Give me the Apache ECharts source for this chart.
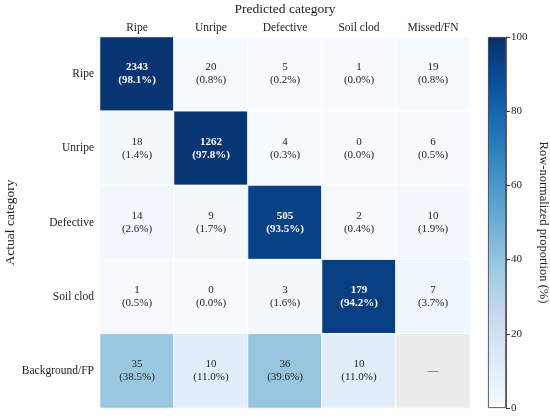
<!DOCTYPE html>
<html><head><meta charset="utf-8">
<script src="https://cdn.jsdelivr.net/npm/echarts@6/dist/echarts.min.js"></script>
<style>html,body{margin:0;padding:0;background:#fff}#c{width:550px;height:417px}</style>
</head><body><div id="c"></div>
<script>
var predicted = ['Ripe','Unripe','Defective','Soil clod','Missed/FN'];
var actual = ['Ripe','Unripe','Defective','Soil clod','Background/FP'];
var counts = [
  [2343, 20, 5, 1, 19],
  [18, 1262, 4, 0, 6],
  [14, 9, 505, 2, 10],
  [1, 0, 3, 179, 7],
  [35, 10, 36, 10, null]
];
var percents = [
  [98.1, 0.8, 0.2, 0.0, 0.8],
  [1.4, 97.8, 0.3, 0.0, 0.5],
  [2.6, 1.7, 93.5, 0.4, 1.9],
  [0.5, 0.0, 1.6, 94.2, 3.7],
  [38.5, 11.0, 39.6, 11.0, null]
];
var colorbarTicks = [0, 20, 40, 60, 80, 100];
var blues = ['#f7fbff','#deebf7','#c6dbef','#9ecae1','#6baed6','#4292c6','#2171b5','#08519c','#08306b'];

var FONT = 'Liberation Serif';
var cells = [], naCells = [];
for (var r = 0; r < actual.length; r++) {
  for (var c = 0; c < predicted.length; c++) {
    if (percents[r][c] === null) {
      naCells.push([c, r, 0]);
    } else {
      var dark = percents[r][c] > 50;
      cells.push({
        value: [c, r, percents[r][c]],
        label: {
          color: dark ? '#ffffff' : '#222222',
          fontWeight: dark ? 'bold' : 'normal'
        }
      });
    }
  }
}

var chart = echarts.init(document.getElementById('c'));
chart.setOption({
  animation: false,
  textStyle: { fontFamily: FONT },
  grid: [
    { left: 100, top: 37, width: 370, height: 371, outerBoundsMode: 'none', containLabel: false },
    { left: 488, top: 37, width: 18, height: 371, outerBoundsMode: 'none', containLabel: false }
  ],
  xAxis: [
    { type: 'category', data: predicted, position: 'top', gridIndex: 0,
      name: 'Predicted category', nameLocation: 'middle', nameGap: 21, nameMoveOverlap: false,
      nameTextStyle: { fontFamily: FONT, fontSize: 13.5, color: '#222' },
      axisLine: { show: false }, axisTick: { show: false }, splitLine: { show: false },
      axisLabel: { fontFamily: FONT, fontSize: 11.5, color: '#222', margin: 3 } },
    { type: 'category', data: ['cb'], gridIndex: 1, show: false }
  ],
  yAxis: [
    { type: 'category', data: actual, inverse: true, gridIndex: 0,
      name: 'Actual category', nameLocation: 'middle', nameGap: 83, nameRotate: 90, nameMoveOverlap: false,
      nameTextStyle: { fontFamily: FONT, fontSize: 13.5, color: '#222' },
      axisLine: { show: false }, axisTick: { show: false }, splitLine: { show: false },
      axisLabel: { fontFamily: FONT, fontSize: 11.5, color: '#222', margin: 6 } },
    { type: 'value', gridIndex: 1, position: 'right', min: 0, max: 100, interval: 20,
      name: 'Row-normalized proportion (%)', nameLocation: 'middle', nameGap: 31, nameRotate: -90, nameMoveOverlap: false,
      nameTextStyle: { fontFamily: FONT, fontSize: 12.5, color: '#222' },
      axisLine: { show: true, lineStyle: { color: '#333', width: 0.8 } },
      axisTick: { show: true, inside: false, length: 4, lineStyle: { color: '#333' } },
      splitLine: { show: false },
      axisLabel: { fontFamily: FONT, fontSize: 11, color: '#222', margin: 5,
        formatter: function (v) { return colorbarTicks.indexOf(v) >= 0 ? String(v) : ''; } } }
  ],
  visualMap: {
    show: false, min: 0, max: 100, seriesIndex: 0, dimension: 2,
    inRange: { color: blues }
  },
  series: [
    { type: 'heatmap', xAxisIndex: 0, yAxisIndex: 0, data: cells,
      itemStyle: { borderColor: '#ffffff', borderWidth: 1 },
      label: { show: true, fontFamily: FONT, fontSize: 11, lineHeight: 13,
        formatter: function (p) {
          var c = p.value[0], r = p.value[1];
          return counts[r][c] + '\n(' + percents[r][c].toFixed(1) + '%)';
        } },
      emphasis: { disabled: true } },
    { type: 'heatmap', xAxisIndex: 0, yAxisIndex: 0, data: naCells,
      itemStyle: { color: '#ebebeb', borderColor: '#ffffff', borderWidth: 1 },
      label: { show: true, fontFamily: FONT, fontSize: 11, color: '#444', formatter: '—' },
      emphasis: { disabled: true } },
    { type: 'bar', xAxisIndex: 1, yAxisIndex: 1, data: [100], barWidth: '100%',
      itemStyle: {
        borderColor: '#333', borderWidth: 0.8,
        color: { type: 'linear', x: 0, y: 1, x2: 0, y2: 0,
          colorStops: blues.map(function (col, i) { return { offset: i / (blues.length - 1), color: col }; }) }
      },
      emphasis: { disabled: true } }
  ]
});
</script></body></html>
